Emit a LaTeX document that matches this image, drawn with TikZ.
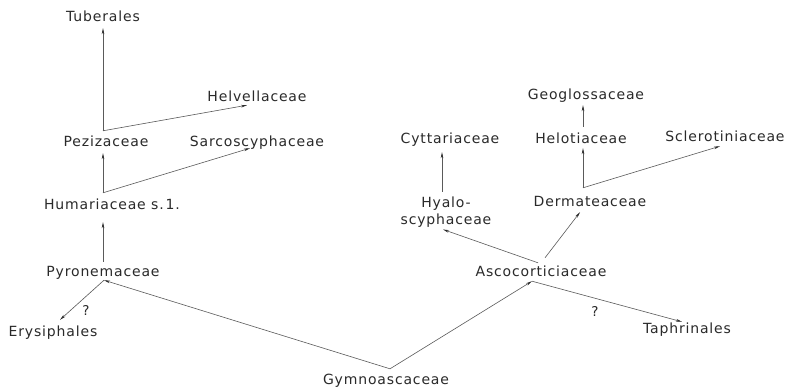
\documentclass[tikz,border=0pt]{standalone}
\usepackage{fontspec}
\setmainfont{DejaVu Sans}[LetterSpace=6]
\usetikzlibrary{arrows.meta}
\definecolor{ink}{HTML}{2A2A2A}
\definecolor{wire}{HTML}{5A5A5A}
\definecolor{tip}{HTML}{2A2A2A}
\begin{document}
\begin{tikzpicture}[x=1pt,y=-1pt,
  lab/.style={font=\fontsize{14}{17}\selectfont, text=ink, inner sep=2pt,
              text height=10pt, text depth=3pt},
  labml/.style={font=\fontsize{14}{17}\selectfont, text=ink, inner sep=2pt,
              align=center},
  qmark/.style={font=\fontsize{13.5}{15}\selectfont, text=ink, inner sep=0pt},
  link/.style={draw=wire, line width=0.6pt},
  arr/.style={link, -{Stealth[length=6pt,width=2.6pt,color=tip]}}]
\useasboundingbox (0,0) rectangle (792,387);
\fill[white] (0,0) rectangle (792,387);

% --- left branch
\node[lab] (tub)  at (103,18)  {Tuberales};
\node[lab] (helv) at (257,98)  {Helvellaceae};
\node[lab] (pez)  at (106,143) {Pezizaceae};
\node[lab] (sarc) at (257,143) {Sarcoscyphaceae};
\node[lab] (hum)  at (112,206) {Humariaceae s.\kern2pt1.};
\node[lab] (pyr)  at (103,273) {Pyronemaceae};
\node[lab] (ery)  at (53,333)  {Erysiphales};

% --- root
\node[lab] (gym)  at (386,381) {Gymnoascaceae};

% --- right branch
\node[lab]   (asco)  at (541,273) {Ascocorticiaceae};
\node[lab]   (taph)  at (687,330) {Taphrinales};
\node[labml] (hyal)  at (446,212) {Hyalo-\\scyphaceae};
\node[lab]   (derm)  at (590,203) {Dermateaceae};
\node[lab]   (cytt)  at (450,140) {Cyttariaceae};
\node[lab]   (helo)  at (581,140) {Helotiaceae};
\node[lab]   (geog)  at (586,96)  {Geoglossaceae};
\node[lab]   (scler) at (725,138) {Sclerotiniaceae};

\node[qmark] (q1) at (86,310)  {?};
\node[qmark] (q2) at (595,311) {?};

% --- branching points
\coordinate (jPez)  at ([xshift=-3pt,yshift=3.5pt]pez.north);
\coordinate (jHum)  at ([xshift=-9pt,yshift=4.5pt]hum.north);
\coordinate (jPyr)  at ([xshift=1pt,yshift=1.5pt]pyr.south);
\coordinate (jGym)  at ([xshift=4pt,yshift=3.5pt]gym.north);
\coordinate (jAsco) at ([xshift=-9pt,yshift=0.5pt]asco.south);
\coordinate (jDerm) at ([xshift=-7pt,yshift=6.5pt]derm.north);

% --- left connectors
\draw[arr] (jPez) -- ([yshift=-1.5pt]tub.south);
\draw[arr] (jPez) -- ([xshift=-10pt,yshift=1.5pt]helv.south);
\draw[arr] (jHum) -- ([xshift=-3pt,yshift=-1.5pt]pez.south);
\draw[arr] (jHum) -- ([xshift=-7pt,yshift=3.5pt]sarc.south);
\draw[arr] ([yshift=2.5pt]pyr.north) -- ([xshift=-9pt,yshift=-7.5pt]hum.south);
\draw[arr] (jPyr) -- ([xshift=7pt,yshift=4.5pt]ery.north);

% --- from the root
\draw[arr] (jGym) -- (jPyr);
\draw[arr] (jGym) -- (jAsco);

% --- right connectors
\draw[arr] (jAsco) -- ([xshift=-5pt,yshift=-0.5pt]taph.north);
\draw[arr] ([xshift=-3pt,yshift=1.5pt]asco.north) -- ([xshift=-3pt]hyal.south);
\draw[arr] ([xshift=4pt,yshift=6.5pt]asco.north) -- ([xshift=-10pt,yshift=-0.5pt]derm.south);
\draw[arr] ([xshift=-4pt,yshift=3pt]hyal.north) -- ([xshift=-8pt,yshift=-3.5pt]cytt.south);
\draw[arr] (jDerm) -- ([xshift=2pt,yshift=0.5pt]helo.south);
\draw[arr] (jDerm) -- ([xshift=-5pt,yshift=0.5pt]scler.south);
\draw[arr] ([xshift=2pt,yshift=4.5pt]helo.north) -- ([xshift=-3pt,yshift=-0.5pt]geog.south);
\end{tikzpicture}
\end{document}
